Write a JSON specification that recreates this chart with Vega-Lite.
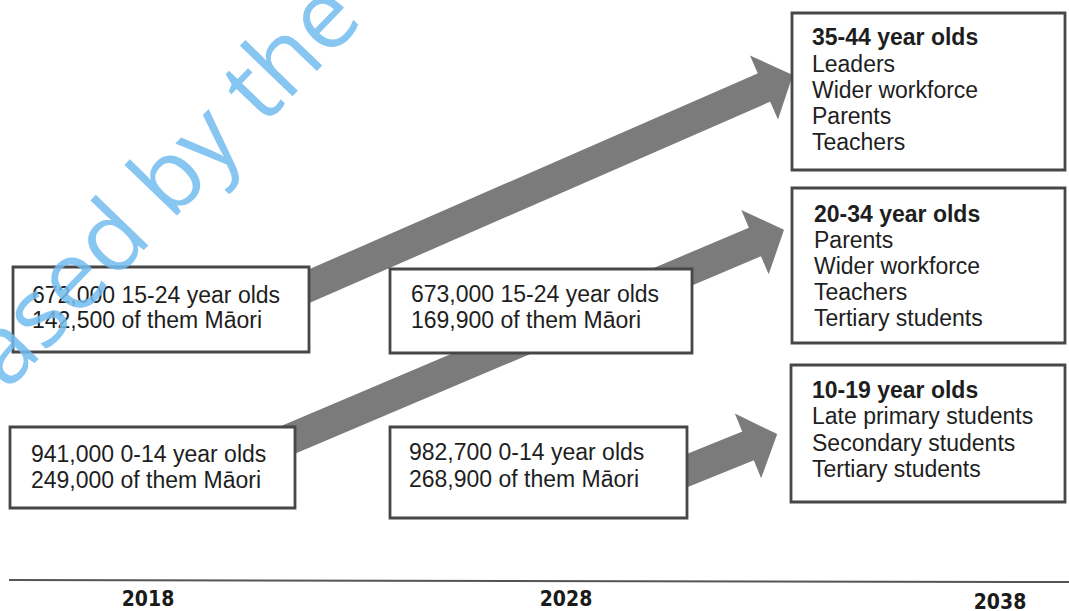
{
  "$schema": "https://vega.github.io/schema/vega-lite/v6.json",
  "width": 1069,
  "height": 611,
  "padding": 0,
  "autosize": {"type": "none"},
  "background": "white",
  "config": {"view": {"stroke": null}},
  "datasets": {
    "arrows": [
      {"id": 1, "x1": 250, "y1": 312, "x2": 766, "y2": 86.6},
      {"id": 2, "x1": 250, "y1": 456, "x2": 755.5, "y2": 241.7},
      {"id": 3, "x1": 640, "y1": 489.6, "x2": 750, "y2": 445.2}
    ],
    "heads": [
      {"id": 1, "x": 778.4, "y": 81.2, "angle": -23.6},
      {"id": 2, "x": 769.5, "y": 236, "angle": -23},
      {"id": 3, "x": 762.6, "y": 440, "angle": -22}
    ],
    "boxes": [
      {"id": "A", "x1": 13, "y1": 267, "x2": 309, "y2": 352},
      {"id": "B", "x1": 10, "y1": 427, "x2": 295, "y2": 508},
      {"id": "C", "x1": 390, "y1": 269, "x2": 692, "y2": 353},
      {"id": "D", "x1": 390, "y1": 427, "x2": 687, "y2": 518},
      {"id": "E", "x1": 792, "y1": 13, "x2": 1065, "y2": 170},
      {"id": "F", "x1": 792, "y1": 188, "x2": 1065, "y2": 343},
      {"id": "G", "x1": 791, "y1": 365, "x2": 1065, "y2": 502}
    ],
    "texts": [
      {"kind": "body", "x": 32, "y": 303, "text": "672,000 15-24 year olds"},
      {"kind": "body", "x": 32, "y": 328, "text": "142,500 of them Māori"},
      {"kind": "body", "x": 31, "y": 462, "text": "941,000 0-14 year olds"},
      {"kind": "body", "x": 31, "y": 488, "text": "249,000 of them Māori"},
      {"kind": "body", "x": 411, "y": 302, "text": "673,000 15-24 year olds"},
      {"kind": "body", "x": 411, "y": 328, "text": "169,900 of them Māori"},
      {"kind": "body", "x": 409, "y": 460, "text": "982,700 0-14 year olds"},
      {"kind": "body", "x": 409, "y": 487, "text": "268,900 of them Māori"},
      {"kind": "head", "x": 812, "y": 45, "text": "35-44 year olds"},
      {"kind": "body", "x": 812, "y": 72, "text": "Leaders"},
      {"kind": "body", "x": 812, "y": 98, "text": "Wider workforce"},
      {"kind": "body", "x": 812, "y": 124, "text": "Parents"},
      {"kind": "body", "x": 812, "y": 150, "text": "Teachers"},
      {"kind": "head", "x": 814, "y": 222, "text": "20-34 year olds"},
      {"kind": "body", "x": 814, "y": 248, "text": "Parents"},
      {"kind": "body", "x": 814, "y": 274, "text": "Wider workforce"},
      {"kind": "body", "x": 814, "y": 300, "text": "Teachers"},
      {"kind": "body", "x": 814, "y": 326, "text": "Tertiary students"},
      {"kind": "head", "x": 812, "y": 398, "text": "10-19 year olds"},
      {"kind": "body", "x": 812, "y": 424, "text": "Late primary students"},
      {"kind": "body", "x": 812, "y": 451, "text": "Secondary students"},
      {"kind": "body", "x": 812, "y": 477, "text": "Tertiary students"}
    ],
    "timeline": [
      {"x1": 9, "y1": 580, "x2": 1069, "y2": 582}
    ],
    "years": [
      {"x": 148, "y": 606, "text": "2018"},
      {"x": 566, "y": 606, "text": "2028"},
      {"x": 1000, "y": 609, "text": "2038"}
    ],
    "watermark": [
      {"x": 365, "y": 21, "text": "Released by the"}
    ]
  },
  "layer": [
    {
      "data": {"name": "arrows"},
      "mark": {"type": "rule", "strokeWidth": 31, "strokeCap": "butt", "color": "#7b7b7b"},
      "encoding": {
        "x": {"field": "x1", "type": "quantitative", "scale": {"domain": [0, 1069], "nice": false, "zero": false}, "axis": null},
        "y": {"field": "y1", "type": "quantitative", "scale": {"domain": [0, 611], "nice": false, "zero": false, "reverse": true}, "axis": null},
        "x2": {"field": "x2"},
        "y2": {"field": "y2"}
      }
    },
    {
      "data": {"name": "heads"},
      "mark": {"type": "point", "shape": "M-0.45,-1L0.45,0L-0.45,1Z", "size": 4900, "filled": true, "color": "#7b7b7b", "opacity": 1, "strokeWidth": 0},
      "encoding": {
        "x": {"field": "x", "type": "quantitative", "scale": {"domain": [0, 1069], "nice": false, "zero": false}, "axis": null},
        "y": {"field": "y", "type": "quantitative", "scale": {"domain": [0, 611], "nice": false, "zero": false, "reverse": true}, "axis": null},
        "angle": {"field": "angle", "type": "quantitative", "scale": null}
      }
    },
    {
      "data": {"name": "boxes"},
      "mark": {"type": "rect", "fill": "white", "stroke": "#474747", "strokeWidth": 2.8},
      "encoding": {
        "x": {"field": "x1", "type": "quantitative", "scale": {"domain": [0, 1069], "nice": false, "zero": false}, "axis": null},
        "y": {"field": "y1", "type": "quantitative", "scale": {"domain": [0, 611], "nice": false, "zero": false, "reverse": true}, "axis": null},
        "x2": {"field": "x2"},
        "y2": {"field": "y2"}
      }
    },
    {
      "data": {"name": "texts"},
      "transform": [{"filter": "datum.kind === 'body'"}],
      "mark": {"type": "text", "align": "left", "baseline": "alphabetic", "font": "Liberation Sans", "fontSize": 23, "color": "#1e1e1e"},
      "encoding": {
        "x": {"field": "x", "type": "quantitative", "scale": {"domain": [0, 1069], "nice": false, "zero": false}, "axis": null},
        "y": {"field": "y", "type": "quantitative", "scale": {"domain": [0, 611], "nice": false, "zero": false, "reverse": true}, "axis": null},
        "text": {"field": "text"}
      }
    },
    {
      "data": {"name": "texts"},
      "transform": [{"filter": "datum.kind === 'head'"}],
      "mark": {"type": "text", "align": "left", "baseline": "alphabetic", "font": "Liberation Sans", "fontSize": 23, "fontWeight": "bold", "color": "#1e1e1e"},
      "encoding": {
        "x": {"field": "x", "type": "quantitative", "scale": {"domain": [0, 1069], "nice": false, "zero": false}, "axis": null},
        "y": {"field": "y", "type": "quantitative", "scale": {"domain": [0, 611], "nice": false, "zero": false, "reverse": true}, "axis": null},
        "text": {"field": "text"}
      }
    },
    {
      "data": {"name": "timeline"},
      "mark": {"type": "rule", "strokeWidth": 2, "color": "#555555"},
      "encoding": {
        "x": {"field": "x1", "type": "quantitative", "scale": {"domain": [0, 1069], "nice": false, "zero": false}, "axis": null},
        "y": {"field": "y1", "type": "quantitative", "scale": {"domain": [0, 611], "nice": false, "zero": false, "reverse": true}, "axis": null},
        "x2": {"field": "x2"},
        "y2": {"field": "y2"}
      }
    },
    {
      "data": {"name": "years"},
      "mark": {"type": "text", "align": "center", "baseline": "alphabetic", "font": "DejaVu Sans Condensed, Liberation Sans Narrow, sans-serif", "fontSize": 21, "fontWeight": "bold", "color": "#1a1a1a"},
      "encoding": {
        "x": {"field": "x", "type": "quantitative", "scale": {"domain": [0, 1069], "nice": false, "zero": false}, "axis": null},
        "y": {"field": "y", "type": "quantitative", "scale": {"domain": [0, 611], "nice": false, "zero": false, "reverse": true}, "axis": null},
        "text": {"field": "text"}
      }
    },
    {
      "data": {"name": "watermark"},
      "mark": {"type": "text", "align": "right", "baseline": "alphabetic", "angle": -46, "font": "Open Sans", "fontSize": 96, "color": "#74bdf0", "opacity": 0.85},
      "encoding": {
        "x": {"field": "x", "type": "quantitative", "scale": {"domain": [0, 1069], "nice": false, "zero": false}, "axis": null},
        "y": {"field": "y", "type": "quantitative", "scale": {"domain": [0, 611], "nice": false, "zero": false, "reverse": true}, "axis": null},
        "text": {"field": "text"}
      }
    }
  ]
}
